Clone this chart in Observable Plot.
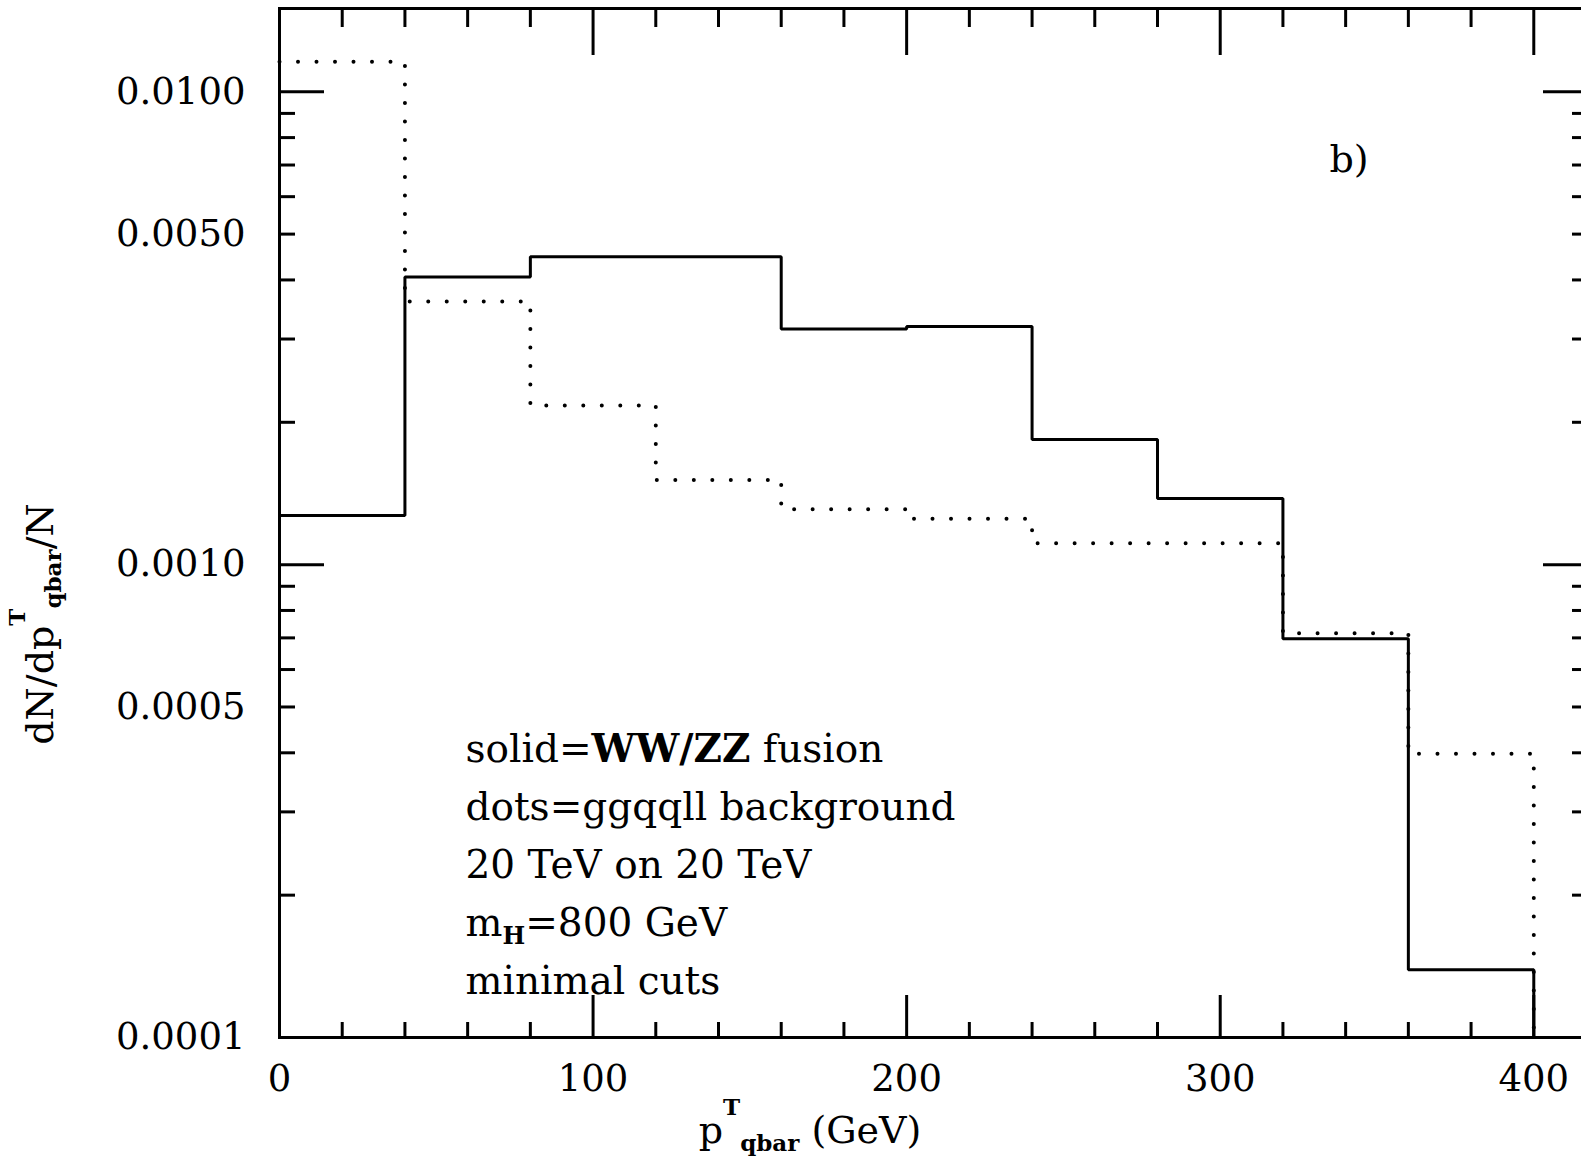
<!DOCTYPE html>
<html>
<head>
<meta charset="utf-8">
<script src="https://cdn.jsdelivr.net/npm/d3@7"></script>
<script src="https://cdn.jsdelivr.net/npm/@observablehq/plot@0.6"></script>
<style>
  html, body { margin: 0; padding: 0; background: white; overflow: hidden; }
  #chart svg { display: block; }
</style>
</head>
<body>
<div id="chart"></div>
<script>
// Bin edges (GeV) and per-bin values of the two histograms
const binEdges = [0, 40, 80, 120, 160, 200, 240, 280, 320, 360, 400];
const solidValues = [0.00127, 0.00406, 0.00448, 0.00448, 0.00315, 0.00319, 0.00184, 0.00138, 0.000697, 0.000139];
const dotsValues  = [0.01157, 0.00360, 0.00217, 0.00151, 0.00131, 0.00125, 0.00111, 0.00111, 0.000716, 0.000398];

// Axis ticks
const xMajorTicks = [0, 100, 200, 300, 400];
const xMinorTicks = [20, 40, 60, 80, 120, 140, 160, 180, 220, 240, 260, 280, 320, 340, 360, 380];
const yLabelTicks = [0.0001, 0.0005, 0.001, 0.005, 0.01];
const yTickLabels = ["0.0001", "0.0005", "0.0010", "0.0050", "0.0100"];
const yMajorTicks = [0.0001, 0.001, 0.01];
const yMinorTicks = [0.0002, 0.0003, 0.0004, 0.0005, 0.0006, 0.0007, 0.0008, 0.0009,
                     0.002, 0.003, 0.004, 0.005, 0.006, 0.007, 0.008, 0.009];

const legendLines = ["solid=WW/ZZ fusion", "dots=ggqqll background", "20 TeV on 20 TeV", "mH=800 GeV", "minimal cuts"];
const panelLabel = "b)";
const xLabel = "pTqbar (GeV)";
const yLabel = "dN/dpTqbar/N";
const yMin = 0.0001;

// Step outlines: one point per bin edge, closing down to the frame bottom at the last edge
function outline(values) {
  const pts = values.map((v, i) => ({x: binEdges[i], y: v}));
  pts.push({x: binEdges[binEdges.length - 1], y: values[values.length - 1]});
  pts.push({x: binEdges[binEdges.length - 1], y: yMin});
  return pts;
}

const W = 1581, H = 1163;
const mT = 8, mB = 126, mL = 279, mR = -15;
const plotH = H - mT - mB, plotW = W - mL - mR;

const chart = Plot.plot({
  width: W, height: H,
  marginTop: mT, marginBottom: mB, marginLeft: mL, marginRight: mR,
  x: {domain: [0, 420]},
  y: {type: "log", domain: [yMin, 0.015]},
  style: {fontFamily: "DejaVu Serif", fontSize: "37px", background: "white", color: "black"},
  marks: [
    // ticks drawn inward on all four sides
    Plot.ruleX(xMinorTicks, {x: d => d, insetTop: plotH - 15, strokeWidth: 3}),
    Plot.ruleX(xMajorTicks, {x: d => d, insetTop: plotH - 42, strokeWidth: 3}),
    Plot.ruleX(xMinorTicks, {x: d => d, insetBottom: plotH - 19, strokeWidth: 3}),
    Plot.ruleX(xMajorTicks, {x: d => d, insetBottom: plotH - 47, strokeWidth: 3}),
    Plot.ruleY(yMinorTicks, {y: d => d, insetRight: plotW - 16, strokeWidth: 3}),
    Plot.ruleY(yMajorTicks, {y: d => d, insetRight: plotW - 45, strokeWidth: 3}),
    Plot.ruleY(yMinorTicks, {y: d => d, insetLeft: plotW - 24, strokeWidth: 3}),
    Plot.ruleY(yMajorTicks, {y: d => d, insetLeft: plotW - 53, strokeWidth: 3}),
    // tick labels
    Plot.axisX(xMajorTicks, {anchor: "bottom", tickSize: 0, tickPadding: 27, label: null, fontSize: 37}),
    Plot.axisY(yLabelTicks, {anchor: "left", tickSize: 0, tickPadding: 34, label: null, fontSize: 37,
      tickFormat: d => yTickLabels[yLabelTicks.indexOf(d)]}),
    // histograms
    Plot.line(outline(dotsValues), {x: "x", y: "y", curve: "step-after", stroke: "black",
      strokeWidth: 4, strokeDasharray: "0 18.5", strokeLinecap: "round"}),
    Plot.line(outline(solidValues), {x: "x", y: "y", curve: "step-after", stroke: "black",
      strokeWidth: 3, strokeLinejoin: "miter", strokeLinecap: "square"}),
    Plot.frame({stroke: "black", strokeWidth: 3}),
    // annotations
    Plot.text([legendLines.join("\n")], {frameAnchor: "top-left", textAnchor: "start", lineAnchor: "top",
      dx: 186, dy: 712, lineHeight: 1.49, fontSize: 39}),
    Plot.text([panelLabel], {frameAnchor: "top-left", textAnchor: "start", lineAnchor: "middle",
      dx: 1050, dy: 151, fontSize: 38}),
    Plot.text([xLabel], {frameAnchor: "bottom", textAnchor: "middle", lineAnchor: "middle",
      dx: -128, dy: 93, fontSize: 38}),
    Plot.text([yLabel], {frameAnchor: "left", textAnchor: "middle", lineAnchor: "middle", rotate: -90,
      dx: -239, dy: 101, fontSize: 38})
  ]
});

document.getElementById("chart").appendChild(chart);

// Rich text: superscripts, subscripts and bold pieces
const NS = "http://www.w3.org/2000/svg";
function rich(node, parts) {
  node.textContent = "";
  for (const p of parts) {
    const t = document.createElementNS(NS, "tspan");
    t.textContent = p.t;
    if (p.dy) t.setAttribute("dy", p.dy);
    if (p.size) t.setAttribute("font-size", p.size);
    if (p.bold) t.setAttribute("font-weight", "bold");
    node.appendChild(t);
  }
}
d3.select(chart).selectAll("text, tspan").each(function() {
  if (this.children.length) return;
  const s = this.textContent;
  if (s === xLabel) {
    rich(this, [{t: "p"}, {t: "T", dy: -28, size: 23, bold: true}, {t: "qbar", dy: 36, size: 23, bold: true}, {t: " (GeV)", dy: -8}]);
  } else if (s === yLabel) {
    rich(this, [{t: "dN/dp"}, {t: "T", dy: -28, size: 23, bold: true}, {t: "qbar", dy: 36, size: 23, bold: true}, {t: "/N", dy: -8}]);
  } else if (s === "mH=800 GeV") {
    rich(this, [{t: "m"}, {t: "H", dy: 8, size: 24, bold: true}, {t: "=800 GeV", dy: -8}]);
  } else if (s === "solid=WW/ZZ fusion") {
    rich(this, [{t: "solid="}, {t: "WW/ZZ", bold: true}, {t: " fusion"}]);
  }
});
</script>
</body>
</html>
